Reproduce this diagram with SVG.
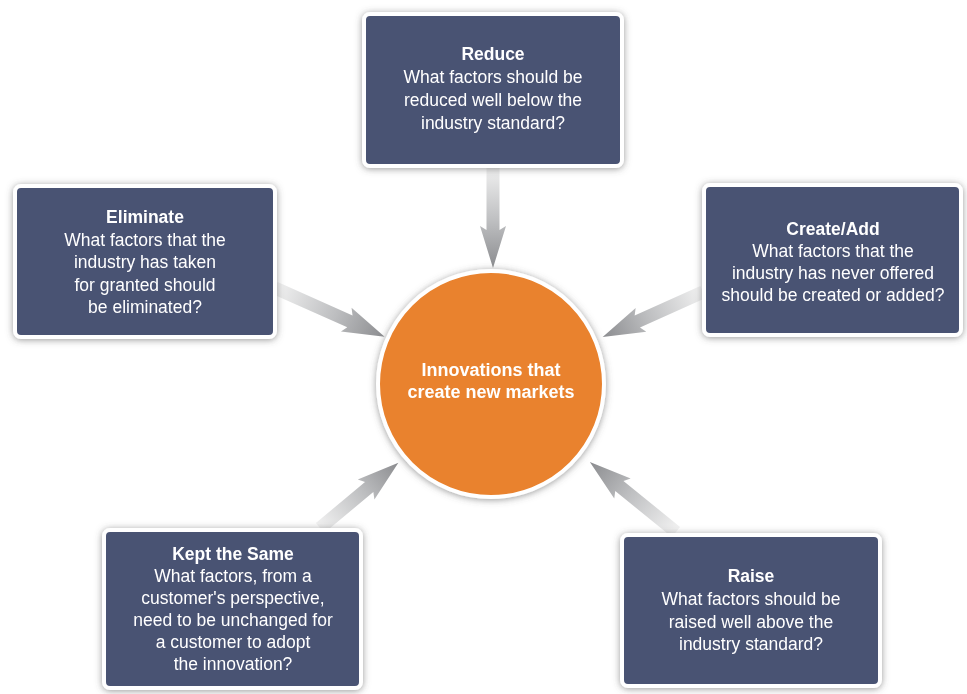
<svg xmlns="http://www.w3.org/2000/svg" width="967" height="694" viewBox="0 0 967 694">
  <defs>
    <linearGradient id="arrowGrad" x1="0" y1="0" x2="1" y2="0">
      <stop offset="0" stop-color="#f2f2f2"/>
      <stop offset="0.55" stop-color="#bdbec0"/>
      <stop offset="1" stop-color="#8b8c8f"/>
    </linearGradient>
    <filter id="shadow" x="-20%" y="-20%" width="140%" height="140%">
      <feGaussianBlur in="SourceAlpha" stdDeviation="3.5"/>
      <feOffset dx="0" dy="1" result="b"/>
      <feFlood flood-color="#555555" flood-opacity="0.6"/>
      <feComposite in2="b" operator="in"/>
      <feMerge>
        <feMergeNode/>
        <feMergeNode in="SourceGraphic"/>
      </feMerge>
    </filter>
  </defs>
  <style>
    .box { fill: #495273; stroke: #ffffff; stroke-width: 4; }
    .title { font-family: "Liberation Sans", Arial, sans-serif; font-weight: bold; font-size: 17.5px; fill: #ffffff; text-anchor: middle; }
    .body { font-family: "Liberation Sans", Arial, sans-serif; font-size: 17.5px; fill: #ffffff; text-anchor: middle; }
    .ctext { font-family: "Liberation Sans", Arial, sans-serif; font-weight: bold; font-size: 18px; fill: #ffffff; text-anchor: middle; }
    .arrow { fill: url(#arrowGrad); }
  </style>

  <g id="connectors">
    <polygon class="arrow" transform="translate(493,165) rotate(90)" points="0,-6.5 65,-6.5 61,-13 103,0 61,13 65,6.5 0,6.5"/>
    <polygon class="arrow" transform="translate(275,288) rotate(24)" points="0,-6.5 82,-6.5 78,-13 120,0 78,13 82,6.5 0,6.5"/>
    <polygon class="arrow" transform="translate(703,292) rotate(155.8)" points="0,-6.5 72,-6.5 68,-13 110,0 68,13 72,6.5 0,6.5"/>
    <polygon class="arrow" transform="translate(320,528) rotate(-39.8)" points="0,-6.5 64,-6.5 60,-13 102,0 60,13 64,6.5 0,6.5"/>
    <polygon class="arrow" transform="translate(676,532) rotate(-140.9)" points="0,-6.5 73,-6.5 69,-13 111,0 69,13 73,6.5 0,6.5"/>
  </g>

  <g id="center" filter="url(#shadow)">
    <circle cx="491" cy="384" r="113" fill="#e9822d" stroke="#ffffff" stroke-width="4"/>
    <text class="ctext" x="491" y="376">Innovations that</text>
    <text class="ctext" x="491" y="398">create new markets</text>
  </g>

  <g id="reduce" filter="url(#shadow)">
    <rect class="box" x="364" y="14" width="258" height="152" rx="6"/>
    <text class="title" x="493" y="60">Reduce</text>
    <text class="body" x="493" y="83">What factors should be</text>
    <text class="body" x="493" y="106">reduced well below the</text>
    <text class="body" x="493" y="129">industry standard?</text>
  </g>

  <g id="eliminate" filter="url(#shadow)">
    <rect class="box" x="15" y="186" width="260" height="151" rx="6"/>
    <text class="title" x="145" y="223">Eliminate</text>
    <text class="body" x="145" y="245.5">What factors that the</text>
    <text class="body" x="145" y="268">industry has taken</text>
    <text class="body" x="145" y="290.5">for granted should</text>
    <text class="body" x="145" y="313">be eliminated?</text>
  </g>

  <g id="create-add" filter="url(#shadow)">
    <rect class="box" x="704" y="185" width="257" height="150" rx="6"/>
    <text class="title" x="833" y="234.5">Create/Add</text>
    <text class="body" x="833" y="256.5">What factors that the</text>
    <text class="body" x="833" y="278.5">industry has never offered</text>
    <text class="body" x="833" y="300.5">should be created or added?</text>
  </g>

  <g id="kept-the-same" filter="url(#shadow)">
    <rect class="box" x="104" y="530" width="257" height="158" rx="6"/>
    <text class="title" x="233" y="560">Kept the Same</text>
    <text class="body" x="233" y="582">What factors, from a</text>
    <text class="body" x="233" y="604">customer's perspective,</text>
    <text class="body" x="233" y="626">need to be unchanged for</text>
    <text class="body" x="233" y="648">a customer to adopt</text>
    <text class="body" x="233" y="670">the innovation?</text>
  </g>

  <g id="raise" filter="url(#shadow)">
    <rect class="box" x="622" y="535" width="258" height="151" rx="6"/>
    <text class="title" x="751" y="582">Raise</text>
    <text class="body" x="751" y="605">What factors should be</text>
    <text class="body" x="751" y="627.5">raised well above the</text>
    <text class="body" x="751" y="650">industry standard?</text>
  </g>
</svg>
